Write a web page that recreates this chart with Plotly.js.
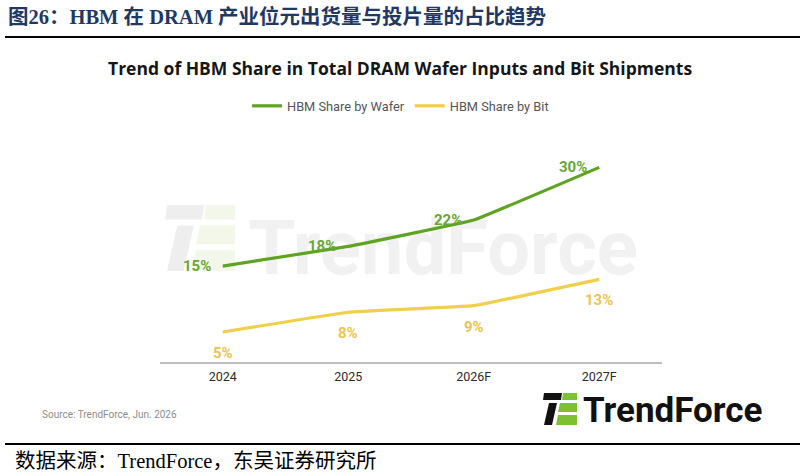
<!DOCTYPE html>
<html>
<head>
<meta charset="utf-8">
<script src="https://cdn.plot.ly/plotly-3.0.1.min.js"></script>
<style>html,body{margin:0;padding:0;background:#fff;}#chart{width:805px;height:476px;}</style>
</head>
<body>
<div id="chart"></div>
<script>
// ---- data ----
const years = ['2024', '2025', '2026F', '2027F'];
const waferShare = [15, 18, 22, 30];
const bitShare = [5, 8, 9, 13];
const seriesNames = ['HBM Share by Wafer', 'HBM Share by Bit'];

// ---- layout helpers ----
const W = 805, H = 476, L = 160, R = 662, T = 141, B = 362;
const fx = px => (px - L) / (R - L);
const fy = py => (B - py) / (B - T);
const GREEN = '#5ea322', YELLOW = '#f1cf4b';
const GREEN_T = '#67a733', YELLOW_T = '#ecc453';

function iconPaths(ox, oy, s, colDark, colGreen) {
  const polys = [
    {c: colDark, p: [[1,0],[19,0],[18,7],[0,7]]},
    {c: colDark, p: [[6,10],[14,10],[9,32],[1,32]]},
    {c: colGreen, p: [[20,0],[34,0],[34,7],[19,7]]},
    {c: colGreen, p: [[17,10],[34,10],[34,19],[15,19]]},
    {c: colGreen, p: [[15,22],[34,22],[34,32],[13,32]]}
  ];
  return polys.map(o => ({
    type: 'path', xref: 'paper', yref: 'paper', layer: 'below',
    fillcolor: o.c, line: {width: 0},
    path: 'M' + o.p.map(q => fx(ox + q[0]*s).toFixed(5) + ',' + fy(oy + q[1]*s).toFixed(5)).join(' L') + ' Z'
  }));
}

const traces = [
  {x: years, y: waferShare, name: seriesNames[0], type: 'scatter', mode: 'lines',
   line: {color: GREEN, width: 3.2, shape: 'spline', smoothing: 0.2}, hoverinfo: 'skip'},
  {x: years, y: bitShare, name: seriesNames[1], type: 'scatter', mode: 'lines',
   line: {color: YELLOW, width: 3.2, shape: 'spline', smoothing: 0.2}, hoverinfo: 'skip'}
];

const labelFont = {family: 'Roboto, sans-serif', size: 15, weight: 700};
const annotations = [];
years.forEach((yr, i) => {
  annotations.push({x: i, y: waferShare[i], xref: 'x', yref: 'y', text: waferShare[i] + '%',
    showarrow: false, xshift: -26, yshift: 0, font: Object.assign({color: GREEN_T}, labelFont)});
  annotations.push({x: i, y: bitShare[i], xref: 'x', yref: 'y', text: bitShare[i] + '%',
    showarrow: false, xshift: 0, yshift: -21, font: Object.assign({color: YELLOW_T}, labelFont)});
});
annotations.push({xref: 'paper', yref: 'paper', x: fx(400), y: fy(68), xanchor: 'center', yanchor: 'middle',
  text: 'Trend of HBM Share in Total DRAM Wafer Inputs and Bit Shipments', showarrow: false,
  font: {family: 'Open Sans, sans-serif', size: 17.5, weight: 700, color: '#161616'}});
annotations.push({xref: 'paper', yref: 'paper', x: fx(40), y: fy(414), xanchor: 'left', yanchor: 'middle',
  text: 'Source: TrendForce, Jun. 2026', showarrow: false,
  font: {family: 'Roboto, sans-serif', size: 10, color: '#8c8c8c'}});
annotations.push({xref: 'paper', yref: 'paper', x: fx(581), y: fy(410), xanchor: 'left', yanchor: 'middle',
  text: 'TrendForce', showarrow: false,
  font: {family: 'Roboto, sans-serif', size: 35, weight: 700, color: '#111111'}});
annotations.push({xref: 'paper', yref: 'paper', x: fx(13), y: fy(461), xanchor: 'left', yanchor: 'middle',
  text: '数据来源：TrendForce，东吴证券研究所', showarrow: false,
  font: {family: 'Liberation Serif, Noto Sans CJK SC, serif', size: 20.5, color: '#000000'}});

let shapes = [
  {type: 'line', xref: 'paper', yref: 'paper', x0: fx(5), x1: fx(800), y0: fy(37), y1: fy(37), line: {color: '#000', width: 2}},
  {type: 'line', xref: 'paper', yref: 'paper', x0: fx(5), x1: fx(800), y0: fy(444), y1: fy(444), line: {color: '#000', width: 2}},
  {type: 'rect', xref: 'paper', yref: 'paper', layer: 'below', x0: fx(250), x1: fx(636), y0: fy(205), y1: fy(280),
   line: {width: 0}, fillcolor: 'rgba(0,0,0,0)',
   label: {text: 'TrendForce', textposition: 'middle center',
     font: {family: 'Roboto, sans-serif', size: 76, weight: 700, color: '#f1f1f1'}}}
];
shapes = shapes.concat(iconPaths(165, 205, 2.06, '#eeeeee', '#f2f7ea'));
shapes = shapes.concat(iconPaths(543, 393, 1.0, '#111111', '#7dc031'));

const layout = {
  width: W, height: H,
  margin: {l: L, r: W - R, t: T, b: H - B, pad: 0},
  paper_bgcolor: '#ffffff', plot_bgcolor: 'rgba(0,0,0,0)',
  title: {text: '图26：HBM 在 DRAM 产业位元出货量与投片量的占比趋势',
    xref: 'container', yref: 'container', x: 8 / W, xanchor: 'left', y: 1 - 17 / H, yanchor: 'middle',
    font: {family: 'Liberation Serif, Noto Sans CJK SC, serif', size: 20.5, weight: 700, color: '#1f3864'}},
  showlegend: true,
  legend: {orientation: 'h', xref: 'container', yref: 'container', x: 247 / W, xanchor: 'left',
    y: 1 - 106 / H, yanchor: 'middle', font: {family: 'Roboto, sans-serif', size: 12.8, color: '#555555'},
    bgcolor: 'rgba(0,0,0,0)', itemclick: false, itemdoubleclick: false},
  xaxis: {type: 'category', range: [-0.5, 3.5], showline: true, linecolor: '#bdbdbd', linewidth: 2,
    showgrid: false, zeroline: false, ticks: '', fixedrange: true, ticklabelstandoff: 2,
    tickfont: {family: 'Roboto, sans-serif', size: 12.5, color: '#2b2b2b'}},
  yaxis: {range: [0.45, 34], visible: false, showgrid: false, zeroline: false, fixedrange: true},
  annotations: annotations,
  shapes: shapes
};

Plotly.newPlot('chart', traces, layout, {staticPlot: true, displayModeBar: false});
</script>
</body>
</html>
